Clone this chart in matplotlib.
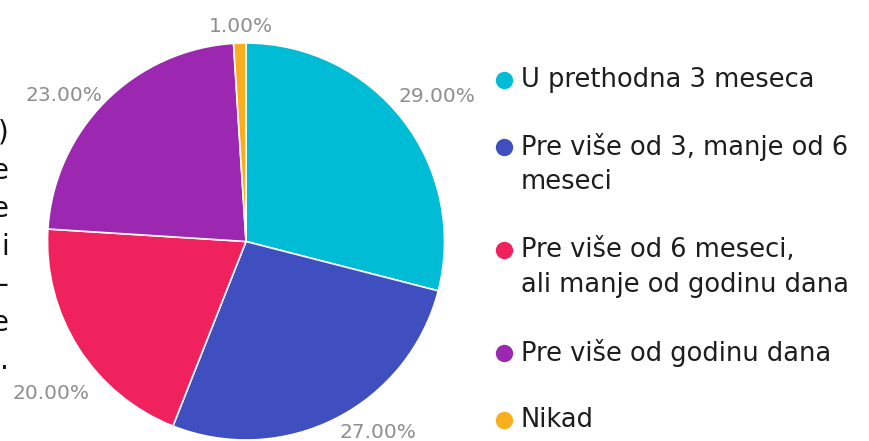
import matplotlib
matplotlib.use("Agg")
import matplotlib.pyplot as plt
from matplotlib.lines import Line2D

# Survey answers: when was the last time
categories = [
    "U prethodna 3 meseca",
    "Pre više od 3, manje od 6\nmeseci",
    "Pre više od 6 meseci,\nali manje od godinu dana",
    "Pre više od godinu dana",
    "Nikad",
]
shares = [29, 27, 20, 23, 1]
colors = ["#00BCD4", "#3F4FBF", "#F0225E", "#9C27B0", "#F9AE1E"]

# label anchor points, in units of the pie radius
pct_positions = [(0.962, 0.728), (0.665, -0.960), (-0.980, -0.765),
                 (-0.917, 0.738), (-0.025, 1.081)]

# trailing characters of the paragraph to the left of the chart
side_chars = [")", "e", "e", "i", "–", "e", "."]

W, H = 870, 441
fig = plt.figure(figsize=(W / 100, H / 100), dpi=100)

cx, cy, R = 246, 441 - 241.5, 198.5
ax = fig.add_axes([(cx - R) / W, (cy - R) / H, 2 * R / W, 2 * R / H])
wedges, texts, autotexts = ax.pie(
    shares, colors=colors, startangle=90, counterclock=False,
    autopct="%.2f%%", pctdistance=1.15,
    wedgeprops=dict(edgecolor="white", linewidth=1.2),
    textprops=dict(color="#8e8e8e", fontsize=14.5, family="DejaVu Sans"),
)
for t, (px, py) in zip(autotexts, pct_positions):
    t.set_position((px, py))
    t.set_ha("center")
    t.set_va("center")
ax.set_xlim(-1, 1)
ax.set_ylim(-1, 1)
ax.set_aspect("equal")
ax.axis("off")

# legend drawn as marker + label rows
row_y = [80, 147, 250, 353, 420]
line_gap = 35
for label, col, y in zip(categories, colors, row_y):
    fig.add_artist(Line2D([504 / W], [1 - y / H], marker="o", markersize=12.5,
                          color=col, markeredgewidth=0, transform=fig.transFigure))
    for k, line in enumerate(label.split("\n")):
        fig.text(521 / W, 1 - (y + k * line_gap) / H, line, ha="left", va="center",
                 fontsize=18.5, color="#1e1e1e", family="DejaVu Sans")

for k, ch in enumerate(side_chars):
    fig.text(9 / W, 1 - (133 + 38 * k) / H, ch, ha="right", va="center",
             fontsize=20, color="#111111", family="DejaVu Sans")

fig.savefig("out.png", dpi=100, facecolor="white")
